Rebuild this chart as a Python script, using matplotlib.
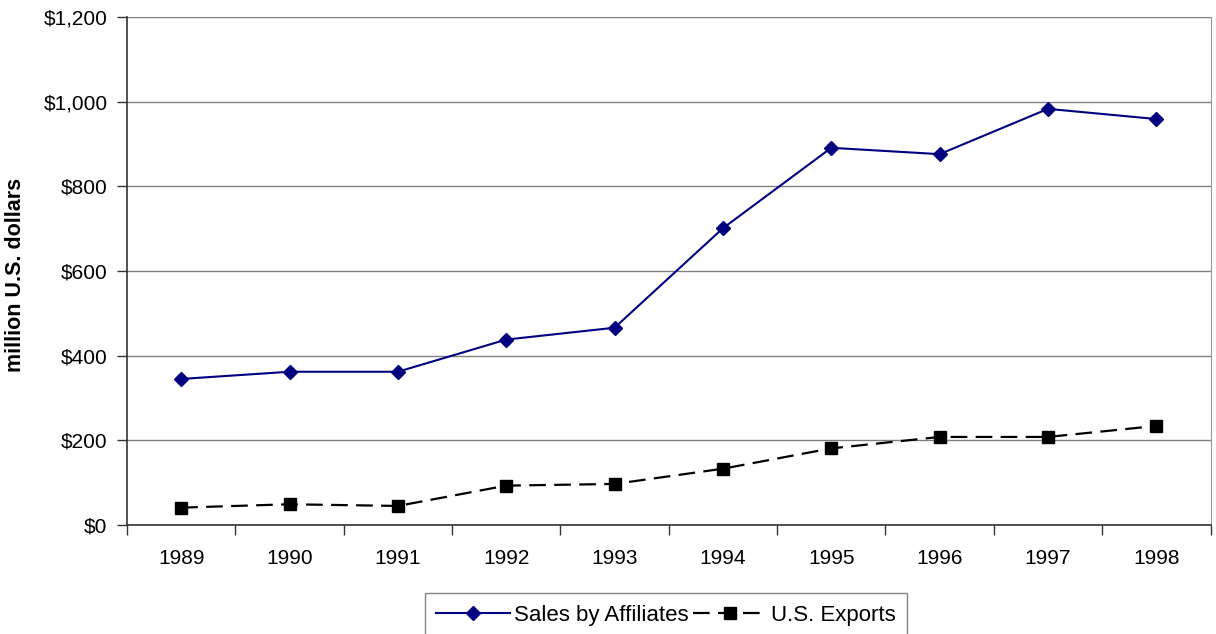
import matplotlib
matplotlib.use("Agg")
import matplotlib.pyplot as plt
from matplotlib.ticker import FuncFormatter, FixedLocator

years = ["1989", "1990", "1991", "1992", "1993", "1994", "1995", "1996", "1997", "1998"]
sales_by_affiliates = [345, 362, 362, 438, 466, 701, 891, 876, 983, 959]
us_exports = [41, 49, 45, 93, 97, 133, 181, 208, 208, 234]

plt.rcParams['font.family'] = ['Liberation Sans', 'DejaVu Sans']
plt.rcParams['lines.scale_dashes'] = False

fig = plt.figure(figsize=(12.16, 6.34), dpi=100)
ax = fig.add_axes([127/1216, 1 - 525/634, (1210.5 - 127)/1216, (525 - 17)/634])

x = list(range(len(years)))
ax.plot(x, sales_by_affiliates, color='#000080', lw=1.5, marker='D', markersize=7.5,
        markerfacecolor='#000080', markeredgecolor='#000080', label='Sales by Affiliates',
        zorder=3)
ax.plot(x, us_exports, color='black', lw=1.6, ls=(0, (12, 6)), marker='s', markersize=8,
        markerfacecolor='black', markeredgecolor='black', label='U.S. Exports', zorder=3)

ax.set_xlim(-0.5, len(years) - 0.5)
ax.set_ylim(0, 1200)
ax.set_yticks(range(0, 1201, 200))
ax.yaxis.set_major_formatter(FuncFormatter(lambda v, p: f"${int(v):,}"))
ax.grid(axis='y', color='#808080', lw=1)
ax.set_axisbelow(True)

ax.set_xticks(x)
ax.set_xticklabels(years)
ax.xaxis.set_minor_locator(FixedLocator([i - 0.5 for i in range(len(years) + 1)]))
ax.tick_params(axis='x', which='major', length=0, pad=17, labelsize=15)
ax.tick_params(axis='x', which='minor', length=7, width=1, color='#333333')
ax.tick_params(axis='y', length=7, width=1, color='#333333', pad=7, labelsize=15)

for s in ['left', 'bottom']:
    ax.spines[s].set_color('#333333')
    ax.spines[s].set_linewidth(1.2)
ax.spines['right'].set_color('#999999')
ax.spines['top'].set_visible(False)

ax.set_ylabel('million U.S. dollars', fontsize=15.5, fontweight='bold')
ax.yaxis.set_label_coords(-(127 - 26) / (1210.5 - 127), (525 - 275) / 508)

leg = fig.legend(loc='center', bbox_to_anchor=(666/1216, 1 - 615/634), ncol=2,
                 fontsize=16, frameon=True, fancybox=False, edgecolor='#666666',
                 handlelength=3.3, columnspacing=0.2, handletextpad=0.2,
                 borderpad=0.5, borderaxespad=0)
leg.get_frame().set_linewidth(1)

fig.savefig('out.png', dpi=100)
